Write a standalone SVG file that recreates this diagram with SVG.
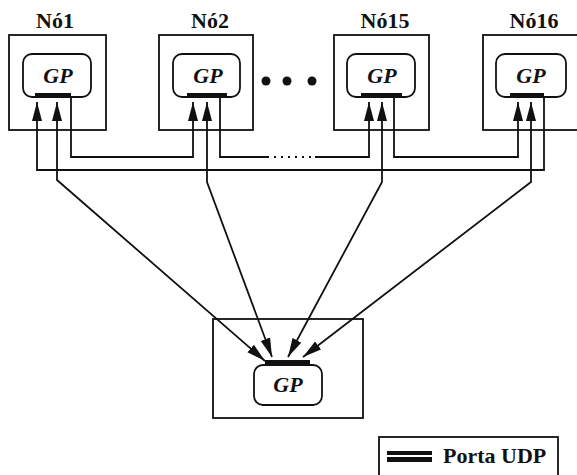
<svg xmlns="http://www.w3.org/2000/svg" width="577" height="475" viewBox="0 0 577 475">
<style>
.box{fill:none;stroke:#111;stroke-width:1.8}
.gp{fill:#fff;stroke:#111;stroke-width:1.8}
.port{fill:#111}
.lbl{font-family:"Liberation Serif","Times New Roman",serif;font-weight:bold;font-size:22px;fill:#111;text-anchor:middle}
.leg{font-family:"Liberation Serif","Times New Roman",serif;font-weight:bold;font-size:22px;fill:#111}
.gpt{font-family:"Liberation Serif","Times New Roman",serif;font-weight:bold;font-style:italic;font-size:22px;fill:#111;text-anchor:middle}
.c{fill:none;stroke:#111;stroke-width:1.8}
.ar{marker-end:url(#ah)}
.bi{marker-start:url(#ah);marker-end:url(#ah)}
</style>
<defs>
<marker id="ah" markerUnits="userSpaceOnUse" markerWidth="20" markerHeight="11" refX="19" refY="5" orient="auto-start-reverse">
<path d="M0,0 L19,5 L0,10 z" fill="#111"/>
</marker>
</defs>
<rect width="577" height="475" fill="#fff"/>
<g id="no1">
<text class="lbl" x="55" y="28">Nó1</text>
<rect class="box" x="9" y="35" width="97" height="95"/>
<rect class="gp" x="23" y="54" width="68" height="43" rx="9"/>
<text class="gpt" x="58" y="83">GP</text>
<rect class="port" x="35" y="93" width="36" height="5"/>
</g>
<g id="no2">
<text class="lbl" x="210" y="28">Nó2</text>
<rect class="box" x="159" y="35" width="94" height="95"/>
<rect class="gp" x="173" y="54" width="67" height="43" rx="9"/>
<text class="gpt" x="208" y="83">GP</text>
<rect class="port" x="187" y="93" width="40" height="5"/>
</g>
<g id="dots">
<circle cx="266" cy="81" r="4.5" fill="#111"/>
<circle cx="287" cy="81" r="4.5" fill="#111"/>
<circle cx="312" cy="81" r="4.5" fill="#111"/>
</g>
<g id="no15">
<text class="lbl" x="385" y="28">Nó15</text>
<rect class="box" x="334" y="35" width="95" height="95"/>
<rect class="gp" x="347" y="54" width="68" height="43" rx="9"/>
<text class="gpt" x="382" y="83">GP</text>
<rect class="port" x="361" y="93" width="41" height="5"/>
</g>
<g id="no16">
<text class="lbl" x="534" y="28">Nó16</text>
<rect class="box" x="483" y="35" width="100" height="95"/>
<rect class="gp" x="496" y="54" width="70" height="43" rx="9"/>
<text class="gpt" x="531" y="83">GP</text>
<rect class="port" x="510" y="93" width="34" height="5"/>
</g>
<g id="central">
<rect class="box" x="213" y="319" width="150" height="99"/>
<rect class="gp" x="254" y="365" width="68" height="40" rx="9"/>
<text class="gpt" x="288" y="392">GP</text>
<rect class="port" x="265" y="360" width="45" height="5"/>
</g>
<g id="connectors">
<polyline class="c ar" points="71,98 71,157 193,157 193,102"/>
<polyline class="c" points="220,98 220,157 267,157"/>
<line class="c" x1="267" y1="157" x2="315" y2="157" stroke-dasharray="2 5"/>
<polyline class="c ar" points="315,157 369,157 369,102"/>
<polyline class="c ar" points="394,98 394,157 518,157 518,102"/>
<polyline class="c ar" points="544,98 544,170 37,170 37,102"/>
<polyline class="c bi" points="57,102 57,180 265,361"/>
<polyline class="c bi" points="207,102 207,182 272,357"/>
<polyline class="c bi" points="382,102 382,182 288,357"/>
<polyline class="c bi" points="531,102 531,182 303,357"/>
</g>
<g id="legend">
<rect class="box" x="379" y="437" width="179" height="45"/>
<rect x="387" y="451" width="45" height="4" fill="#111"/>
<rect x="387" y="457" width="45" height="5" fill="#111"/>
<text class="leg" x="443" y="463">Porta UDP</text>
</g>
</svg>
